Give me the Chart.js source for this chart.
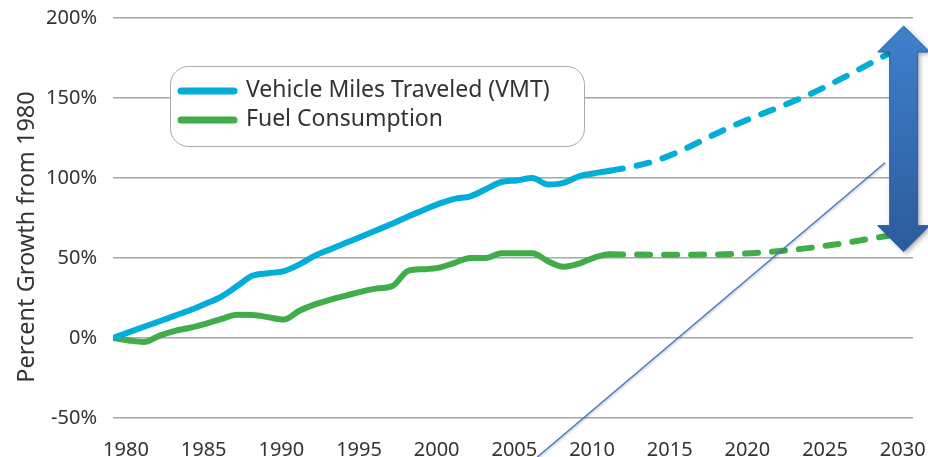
<!DOCTYPE html>
<html>
<head>
<meta charset="utf-8">
<script src="https://cdn.jsdelivr.net/npm/chart.js@4.4.1/dist/chart.umd.min.js"></script>
<style>
	html, body { margin: 0; padding: 0; background: #fff; }
</style>
</head>
<body>
<canvas id="growthChart" width="928" height="457"></canvas>
<script>
// Data (percent growth from 1980)
const histYears = [1980, 1981, 1982, 1983, 1984, 1985, 1986, 1987, 1988, 1989,
	1990, 1991, 1992, 1993, 1994, 1995, 1996, 1997, 1998, 1999,
	2000, 2001, 2002, 2003, 2004, 2005, 2006, 2007, 2008, 2009,
	2010, 2011, 2012];
const vmtHist = [0, 3.5, 7, 10.5, 14, 17.5, 21.5, 26, 32.5, 39,
	40.5, 41.8, 46, 51.5, 55.5, 59.5, 63.5, 67.5, 71.5, 76,
	80, 84, 87, 88.5, 93, 97.5, 98.5, 100, 96, 97,
	101, 103, 104.5];
const fuelHist = [0, -1.5, -2.5, 1.5, 4.5, 6.5, 9, 12, 14.5, 14.4,
	13, 11.5, 17, 21, 24, 26.5, 29, 31, 32.5, 42,
	43, 44, 47, 50, 50, 53, 53, 53, 48, 44.5,
	46.5, 50.3, 52.3];
const projYears = [2015, 2020, 2025, 2030];
const vmtProj = [111, 133, 153, 178];
const fuelProj = [52, 52.5, 56.5, 64];

const xTicks = [1980, 1985, 1990, 1995, 2000, 2005, 2010, 2015, 2020, 2025, 2030];
const yTitle = 'Percent Growth from 1980';

// Projections start after the last historical year
const lastHistYear = histYears[histYears.length - 1];

// Annotation anchors, in data units
const gapArrow = { x: 2030.9, top: 195, bottom: 54 };
const pointerLine = { x0: 2007.3, y0: -74.5, x1: 2029.7, y1: 109.5 };

const toPoints = (years, vals) => years.map((yr, i) => ({ x: yr, y: vals[i] }));

const blue = '#00aed9';
const green = '#40ad48';
const textColor = '#333333';

Chart.defaults.font.family = '"Noto Sans", sans-serif';
Chart.defaults.font.size = 20;
Chart.defaults.color = textColor;

// Legend box, y title, pointer line and gap arrow
const decorations = {
	id: 'decorations',
	afterDatasetsDraw(chart) {
		const ctx = chart.ctx;
		const xs = chart.scales.x;
		const ys = chart.scales.y;

		// legend
		ctx.save();
		ctx.beginPath();
		ctx.roundRect(170.5, 66.5, 414, 80, 18);
		ctx.fillStyle = '#fff';
		ctx.fill();
		ctx.strokeStyle = '#a8a8a8';
		ctx.lineWidth = 1;
		ctx.stroke();

		chart.data.datasets.forEach((set, i) => {
			let y = 91 + i * 29;
			ctx.beginPath();
			ctx.moveTo(181, y);
			ctx.lineTo(234, y);
			ctx.strokeStyle = set.borderColor;
			ctx.lineWidth = 7;
			ctx.lineCap = 'round';
			ctx.stroke();

			ctx.fillStyle = textColor;
			ctx.font = '23px "Noto Sans", sans-serif';
			ctx.textBaseline = 'middle';
			ctx.fillText(set.label, 246, y - 1);
		});
		ctx.restore();

		// y axis title
		ctx.save();
		ctx.translate(27, 237);
		ctx.rotate(-Math.PI / 2);
		ctx.fillStyle = textColor;
		ctx.font = '23.5px "Noto Sans", sans-serif';
		ctx.textAlign = 'center';
		ctx.textBaseline = 'middle';
		ctx.fillText(yTitle, 0, 0);
		ctx.restore();

		// thin pointer line
		ctx.save();
		ctx.shadowColor = 'rgba(0,0,0,0.25)';
		ctx.shadowBlur = 2;
		ctx.shadowOffsetX = 1;
		ctx.shadowOffsetY = 1;
		ctx.beginPath();
		ctx.moveTo(xs.getPixelForValue(pointerLine.x0), ys.getPixelForValue(pointerLine.y0));
		ctx.lineTo(xs.getPixelForValue(pointerLine.x1), ys.getPixelForValue(pointerLine.y1));
		ctx.strokeStyle = '#4a78c0';
		ctx.lineWidth = 1.5;
		ctx.stroke();
		ctx.restore();

		// double-headed arrow
		let cx = xs.getPixelForValue(gapArrow.x);
		let top = ys.getPixelForValue(gapArrow.top);
		let bot = ys.getPixelForValue(gapArrow.bottom);
		let head = 26, headW = 26, shaftW = 14;

		ctx.save();
		let grad = ctx.createLinearGradient(0, top, 0, bot);
		grad.addColorStop(0, '#3f80cd');
		grad.addColorStop(1, '#2c5b9a');
		ctx.shadowColor = 'rgba(0,0,0,0.35)';
		ctx.shadowBlur = 5;
		ctx.shadowOffsetX = 2;
		ctx.shadowOffsetY = 2;
		ctx.beginPath();
		ctx.moveTo(cx, top);
		ctx.lineTo(cx + headW, top + head);
		ctx.lineTo(cx + shaftW, top + head);
		ctx.lineTo(cx + shaftW, bot - head);
		ctx.lineTo(cx + headW, bot - head);
		ctx.lineTo(cx, bot);
		ctx.lineTo(cx - headW, bot - head);
		ctx.lineTo(cx - shaftW, bot - head);
		ctx.lineTo(cx - shaftW, top + head);
		ctx.lineTo(cx - headW, top + head);
		ctx.closePath();
		ctx.fillStyle = grad;
		ctx.fill();
		ctx.shadowColor = 'transparent';
		ctx.strokeStyle = '#2f5f9e';
		ctx.lineWidth = 1;
		ctx.stroke();
		ctx.restore();
	}
};

const dashAfterHist = (ctx) => ctx.p0.parsed.x >= lastHistYear ? [13, 14] : undefined;

function makeSet(label, color, hist, proj) {
	return {
		label: label,
		data: toPoints(histYears, hist).concat(toPoints(projYears, proj)),
		borderColor: color,
		backgroundColor: color,
		borderWidth: 6,
		pointRadius: 0,
		borderCapStyle: 'round',
		borderJoinStyle: 'round',
		cubicInterpolationMode: 'monotone',
		segment: { borderDash: dashAfterHist },
	};
}

let chart = new Chart(document.getElementById('growthChart'), {
	type: 'line',
	data: {
		datasets: [
			makeSet('Vehicle Miles Traveled (VMT)', blue, vmtHist, vmtProj),
			makeSet('Fuel Consumption', green, fuelHist, fuelProj),
		]
	},
	options: {
		responsive: false,
		animation: false,
		devicePixelRatio: 1,
		layout: { autoPadding: false, padding: { top: 18, right: 15, left: 0, bottom: 0 } },
		plugins: { legend: { display: false }, tooltip: { enabled: false } },
		scales: {
			x: {
				type: 'linear',
				min: 1980,
				max: 2031.5,
				afterBuildTicks: scale => { scale.ticks = xTicks.map(v => ({ value: v })); },
				afterFit: scale => {
					scale.height = 39;
					scale.paddingLeft = scale.paddingRight = 0;
				},
				grid: { display: false },
				border: { display: false },
				ticks: {
					padding: 12,
					labelOffset: 13,
					color: textColor,
					callback: v => String(v),
				},
			},
			y: {
				min: -50,
				max: 200,
				afterFit: scale => {
					scale.width = 113;
					scale.paddingTop = scale.paddingBottom = 0;
				},
				grid: { color: '#a6a6a6', lineWidth: 1.5, drawTicks: false },
				border: { display: false },
				ticks: {
					stepSize: 50,
					padding: 16,
					color: textColor,
					callback: v => v + '%',
				},
			},
		}
	},
	plugins: [decorations]
});
</script>
</body>
</html>
